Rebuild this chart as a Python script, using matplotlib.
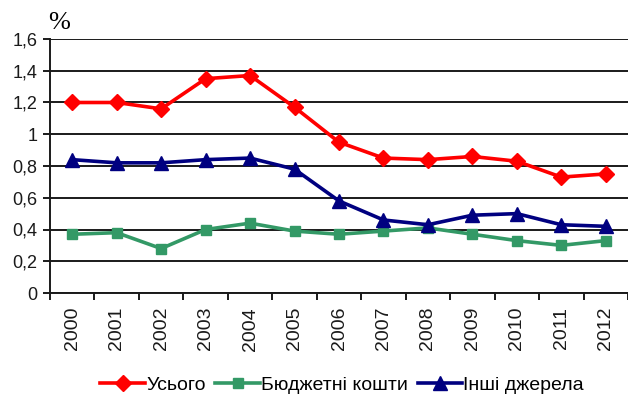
import numpy as np
import matplotlib.pyplot as plt

years = ['2000', '2001', '2002', '2003', '2004', '2005', '2006',
         '2007', '2008', '2009', '2010', '2011', '2012']
total = [1.20, 1.20, 1.16, 1.35, 1.37, 1.17, 0.95, 0.85, 0.84, 0.86, 0.83, 0.73, 0.75]
budget = [0.37, 0.38, 0.28, 0.40, 0.44, 0.39, 0.37, 0.39, 0.41, 0.37, 0.33, 0.30, 0.33]
other = [0.84, 0.82, 0.82, 0.84, 0.85, 0.78, 0.58, 0.46, 0.43, 0.49, 0.50, 0.43, 0.42]
labels = ['Усього', 'Бюджетні кошти', 'Інші джерела']

plt.rcParams['font.family'] = ['Liberation Sans', 'DejaVu Sans']

fig = plt.figure(figsize=(6.28, 4.0), dpi=100)
ax = fig.add_axes([50 / 628, 107 / 400, 578 / 628, 254 / 400])

x = np.arange(len(years))
ax.plot(x, total, color='#FF0000', lw=2.6, marker='D', ms=8, label=labels[0])
ax.plot(x, budget, color='#339966', lw=2.6, marker='s', ms=7.5, label=labels[1])
ax.plot(x, other, color='#000080', lw=2.6, marker='^', ms=9.5, label=labels[2])

ax.set_ylim(0, 1.6)
ax.set_xlim(-0.5, 12.29)
yt = np.arange(0, 1.61, 0.2)
ax.set_yticks(yt)
ax.set_yticklabels(['0' if v == 0 else ('1' if abs(v - 1) < 1e-9 else f'{v:.1f}'.replace('.', ','))
                    for v in yt], fontsize=13, color='#1a1a1a')
ax.yaxis.grid(True, color='#1a1a1a', lw=1.4)
ax.set_axisbelow(True)

ax.set_xticks(x)
ax.set_xticklabels(years, rotation=90, fontsize=14, color='#1a1a1a')
ax.set_xticks(np.arange(-0.5, 12.6, 1), minor=True)
ax.tick_params(axis='x', which='major', length=0, pad=10)
ax.tick_params(axis='x', which='minor', length=5, width=1.4, color='#1a1a1a')
ax.tick_params(axis='y', length=5, width=1.4, color='#1a1a1a', pad=4)

for s in ['top', 'right']:
    ax.spines[s].set_visible(False)
for s in ['left', 'bottom']:
    ax.spines[s].set_color('#1a1a1a')
    ax.spines[s].set_linewidth(1.4)

fig.text(48 / 628, 1 - 23 / 400, '%', fontsize=19, family='Liberation Serif',
         ha='left', va='center')

fig.legend(loc='center', bbox_to_anchor=(0.545, 1 - 385 / 400), ncol=3, frameon=False,
           fontsize=14, handlelength=2.3, handletextpad=0.05, columnspacing=0.5)

fig.savefig('out.png', dpi=100)
